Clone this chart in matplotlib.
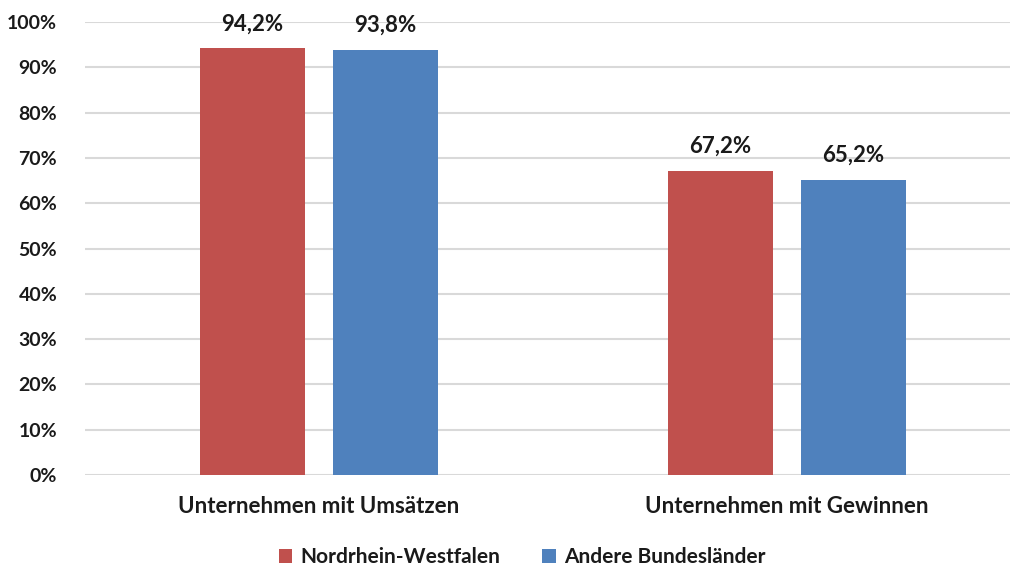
import matplotlib
matplotlib.use("Agg")
import matplotlib.pyplot as plt
import numpy as np

categories = ["Unternehmen mit Umsätzen", "Unternehmen mit Gewinnen"]
series_names = ["Nordrhein-Westfalen", "Andere Bundesländer"]
nrw = [94.2, 67.2]
andere = [93.8, 65.2]
yticks = [0, 10, 20, 30, 40, 50, 60, 70, 80, 90, 100]

colors = ["#C0504D", "#4F81BD"]
txt = "#1A1A1A"
font = ["Lato", "DejaVu Sans"]
plt.rcParams["font.family"] = font

fig = plt.figure(figsize=(10.10, 5.74), dpi=100)
W, H = 1010, 574
left, right = 85, 1010
top, bottom = 22, 475
ax = fig.add_axes([left / W, 1 - bottom / H, (right - left) / W, (bottom - top) / H])

x = np.arange(len(categories))
width = 0.224
off = 0.142
for vals, c, name, o in [(nrw, colors[0], series_names[0], -off), (andere, colors[1], series_names[1], off)]:
    bars = ax.bar(x + o, vals, width, color=c, label=name, zorder=3)
    for b, v in zip(bars, vals):
        ax.annotate(f"{v:.1f}%".replace(".", ","), (b.get_x() + b.get_width() / 2, v),
                    xytext=(0, 10), textcoords="offset points", ha="center", va="bottom",
                    fontsize=16, fontweight="bold", color=txt)

ax.set_ylim(0, 100)
ax.set_xlim(-0.5, (right - 319) / 468)
ax.set_yticks(yticks)
ax.set_yticklabels([f"{t}%" for t in yticks], fontsize=14, fontweight="bold", color=txt)
ax.set_xticks(x)
ax.set_xticklabels(categories, fontsize=16, fontweight="bold", color=txt)
ax.tick_params(axis="both", length=0)
ax.tick_params(axis="y", pad=20)
ax.tick_params(axis="x", pad=15)
ax.yaxis.grid(True, color="#D9D9D9", linewidth=1.5, zorder=0)
ax.set_axisbelow(True)
for s in ax.spines.values():
    s.set_visible(False)

leg = fig.legend(loc="center", bbox_to_anchor=(522 / W, 1 - 557 / H), ncol=2, frameon=False,
                 prop={"family": font, "size": 15, "weight": "bold"}, handlelength=0.65,
                 handleheight=0.65, handletextpad=0.4, columnspacing=2.0)
for t in leg.get_texts():
    t.set_color(txt)

fig.savefig("out.png", dpi=100)
